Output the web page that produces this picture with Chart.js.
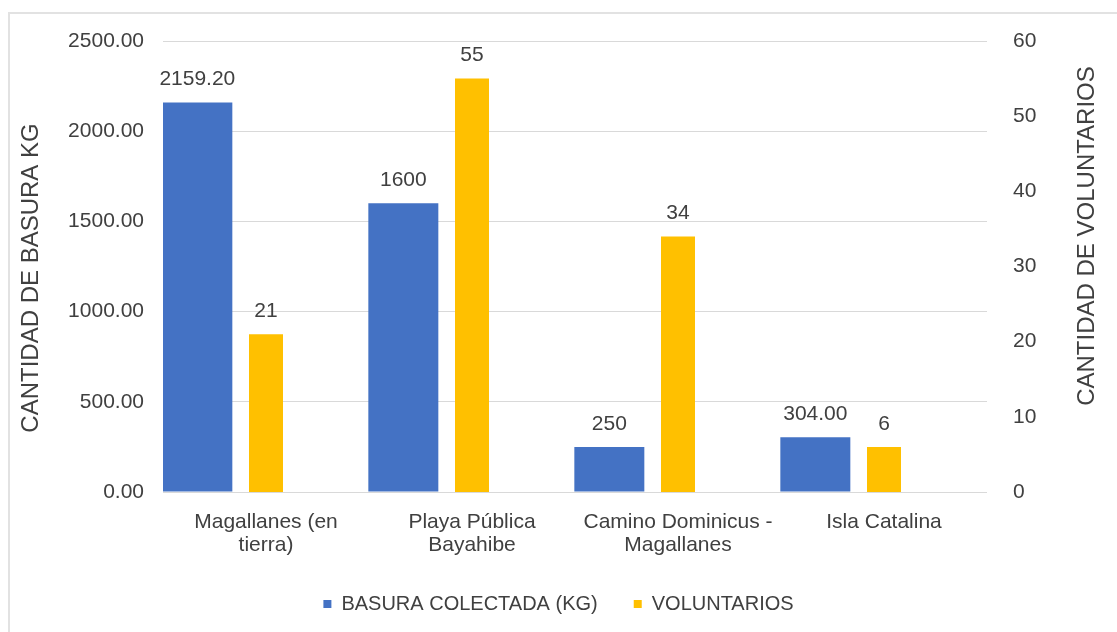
<!DOCTYPE html>
<html>
<head>
<meta charset="utf-8">
<script src="https://cdn.jsdelivr.net/npm/chart.js@4.4.1/dist/chart.umd.min.js"></script>
<style>
  html, body { margin: 0; padding: 0; background: #fff; }
  #wrap { width: 1117px; height: 632px; }
</style>
</head>
<body>
<div id="wrap"><canvas id="chart" width="1117" height="632"></canvas></div>
<script>
const categorias = [
  ['Magallanes (en', 'tierra)'],
  ['Playa Pública', 'Bayahibe'],
  ['Camino Dominicus -', 'Magallanes'],
  'Isla Catalina'
];
const basura = [2159.2, 1600, 250, 304];
const voluntarios = [21, 55, 34, 6];
const etiquetasBasura = ['2159.20', '1600', '250', '304.00'];
const etiquetasVoluntarios = ['21', '55', '34', '6'];
const ticksIzq = ['0.00', '500.00', '1000.00', '1500.00', '2000.00', '2500.00'];
const ticksDer = ['0', '10', '20', '30', '40', '50', '60'];

const AZUL = '#4472C4';
const AMARILLO = '#FFC000';
const TEXTO = '#404040';
const FUENTE = "'Liberation Sans', Arial, sans-serif";

// marco gris y titulos de los ejes
const marcoPlugin = {
  id: 'marco',
  beforeDraw(chart) {
    const ctx = chart.ctx;
    ctx.save();
    ctx.fillStyle = '#fff';
    ctx.fillRect(0, 0, chart.width, chart.height);
    ctx.strokeStyle = '#e2e2e2';
    ctx.lineWidth = 2;
    ctx.strokeRect(9, 13, 2000, 2000);
    ctx.restore();
  },
  afterDraw(chart) {
    const ctx = chart.ctx;
    ctx.save();
    ctx.fillStyle = TEXTO;
    ctx.font = '24px ' + FUENTE;
    ctx.textAlign = 'center';
    ctx.textBaseline = 'middle';
    ctx.translate(31, 278);
    ctx.rotate(-Math.PI / 2);
    ctx.fillText('CANTIDAD DE BASURA KG', 0, 0);
    ctx.restore();

    ctx.save();
    ctx.fillStyle = TEXTO;
    ctx.font = '24px ' + FUENTE;
    ctx.textAlign = 'center';
    ctx.textBaseline = 'middle';
    ctx.translate(1087, 236);
    ctx.rotate(-Math.PI / 2);
    ctx.fillText('CANTIDAD DE VOLUNTARIOS', 0, 0);
    ctx.restore();
  }
};

const etiquetasPlugin = {
  id: 'etiquetas',
  afterDatasetsDraw(chart) {
    const ctx = chart.ctx;
    const textos = [etiquetasBasura, etiquetasVoluntarios];
    ctx.save();
    ctx.fillStyle = TEXTO;
    ctx.font = '21px ' + FUENTE;
    ctx.textAlign = 'center';
    ctx.textBaseline = 'middle';
    textos.forEach((lista, d) => {
      chart.getDatasetMeta(d).data.forEach((bar, i) => {
        ctx.fillText(lista[i], bar.x, bar.y - 23);
      });
    });
    ctx.restore();
  }
};

new Chart(document.getElementById('chart'), {
  type: 'bar',
  data: {
    labels: categorias,
    datasets: [
      {
        label: 'BASURA COLECTADA (KG)',
        data: basura,
        backgroundColor: AZUL,
        yAxisID: 'y',
        categoryPercentage: 1,
        barPercentage: 70 / 68.67
      },
      {
        label: 'VOLUNTARIOS',
        data: voluntarios,
        backgroundColor: AMARILLO,
        yAxisID: 'y1',
        categoryPercentage: 1,
        barPercentage: 34 / 68.67
      },
      {
        label: '',
        data: [null, null, null, null],
        yAxisID: 'y',
        categoryPercentage: 1
      }
    ]
  },
  options: {
    responsive: false,
    animation: false,
    layout: { padding: { left: 0, top: 41, right: 0, bottom: 8 } },
    scales: {
      x: {
        grid: { display: false },
        border: { display: false },
        ticks: {
          color: TEXTO,
          font: { family: FUENTE, size: 21, lineHeight: 1.1 },
          padding: 11,
          maxRotation: 0,
          autoSkip: false
        },
        afterFit(scale) { scale.height = 66; }
      },
      y: {
        position: 'left',
        min: 0,
        max: 2500,
        border: { display: false },
        grid: { color: '#d9d9d9', lineWidth: 1, drawTicks: false },
        ticks: {
          stepSize: 500,
          color: TEXTO,
          font: { family: FUENTE, size: 21 },
          padding: 19,
          callback: (v, i) => ticksIzq[i]
        },
        afterFit(scale) { scale.width = 163; }
      },
      y1: {
        position: 'right',
        min: 0,
        max: 60,
        border: { display: false },
        grid: { display: false, drawOnChartArea: false },
        ticks: {
          stepSize: 10,
          color: TEXTO,
          font: { family: FUENTE, size: 21 },
          padding: 18,
          callback: (v, i) => ticksDer[i]
        },
        afterFit(scale) { scale.width = 130; }
      }
    },
    plugins: {
      legend: {
        position: 'bottom',
        labels: {
          boxWidth: 8,
          boxHeight: 8,
          padding: 36,
          color: TEXTO,
          font: { family: FUENTE, size: 20 },
          filter: item => item.text !== ''
        }
      },
      tooltip: { enabled: false }
    }
  },
  plugins: [marcoPlugin, etiquetasPlugin]
});
</script>
</body>
</html>
